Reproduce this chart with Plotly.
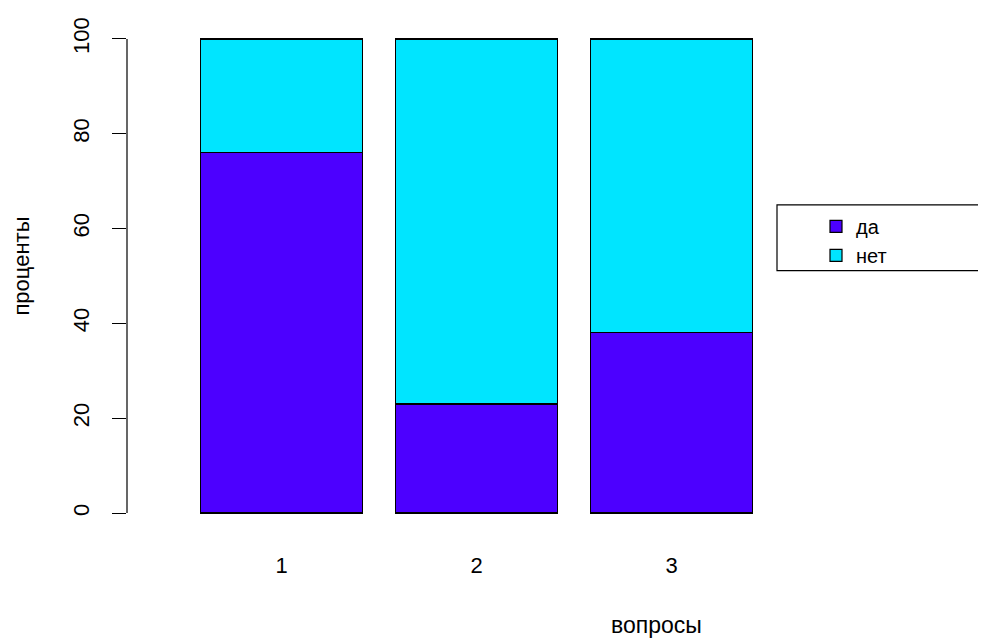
import plotly.graph_objects as go

categories = ["1", "2", "3"]
series_names = ["да", "нет"]
da_values = [76, 23, 38]
net_values = [24, 77, 62]
y_ticks = [0, 20, 40, 60, 80, 100]

FONT = "Liberation Sans, Arial, sans-serif"
FS = 22
# page body has an 8px margin; the figure is sized to fit the 986x640 window
W, H = 978, 632
L, R, T, B = 119, 226, 9, 108
pw, ph = W - L - R, H - T - B

def xp(px):  # reference-window pixel -> paper
    return (px - 8 - L) / pw

def yp(py):
    return (H - B - (py - 8)) / ph

positions = [i + 1 for i in range(len(categories))]

fig = go.Figure()
fig.add_trace(go.Bar(x=positions, y=da_values, name=series_names[0], width=0.833,
                     marker=dict(color="#4C00FF", line=dict(color="black", width=1.2))))
fig.add_trace(go.Bar(x=positions, y=net_values, name=series_names[1], width=0.833,
                     marker=dict(color="#00E5FF", line=dict(color="black", width=1.2))))

fig.update_layout(
    width=W, height=H,
    margin=dict(l=L, r=R, t=T, b=B),
    barmode="stack",
    plot_bgcolor="white", paper_bgcolor="white",
    font=dict(family=FONT, size=FS, color="black"),
    showlegend=True,
    legend=dict(traceorder="normal", x=xp(816), y=yp(205), xanchor="left", yanchor="top",
                bgcolor="rgba(0,0,0,0)", borderwidth=0, font=dict(size=20),
                tracegroupgap=0, itemwidth=30),
    xaxis=dict(range=[0.2077, 3.4538], tickvals=positions, ticktext=categories,
               showgrid=False, zeroline=False, showline=False, ticks="",
               ticklabelstandoff=18),
    yaxis=dict(range=[-4, 104], tickvals=y_ticks, showgrid=False, zeroline=False,
               showline=False, ticks="outside", ticklen=14, tickwidth=1.2, tickcolor="black",
               tickangle=-90, ticklabelstandoff=14),
    shapes=[
        dict(type="line", xref="paper", yref="y", x0=0, x1=0, y0=0, y1=100,
             line=dict(color="black", width=1.2)),
        dict(type="rect", xref="paper", yref="paper", x0=xp(777), x1=xp(1010),
             y0=yp(269), y1=yp(203), line=dict(color="black", width=1.2),
             fillcolor="rgba(0,0,0,0)", layer="below"),
    ],
    annotations=[
        dict(text="вопросы", xref="paper", yref="paper", x=xp(656), y=yp(626),
             xanchor="center", yanchor="middle", showarrow=False, font=dict(size=23)),
        dict(text="проценты", xref="paper", yref="paper", x=xp(22), y=yp(265),
             xanchor="center", yanchor="middle", textangle=-90, showarrow=False,
             font=dict(size=FS)),
    ],
)

fig.write_html("out.html")
